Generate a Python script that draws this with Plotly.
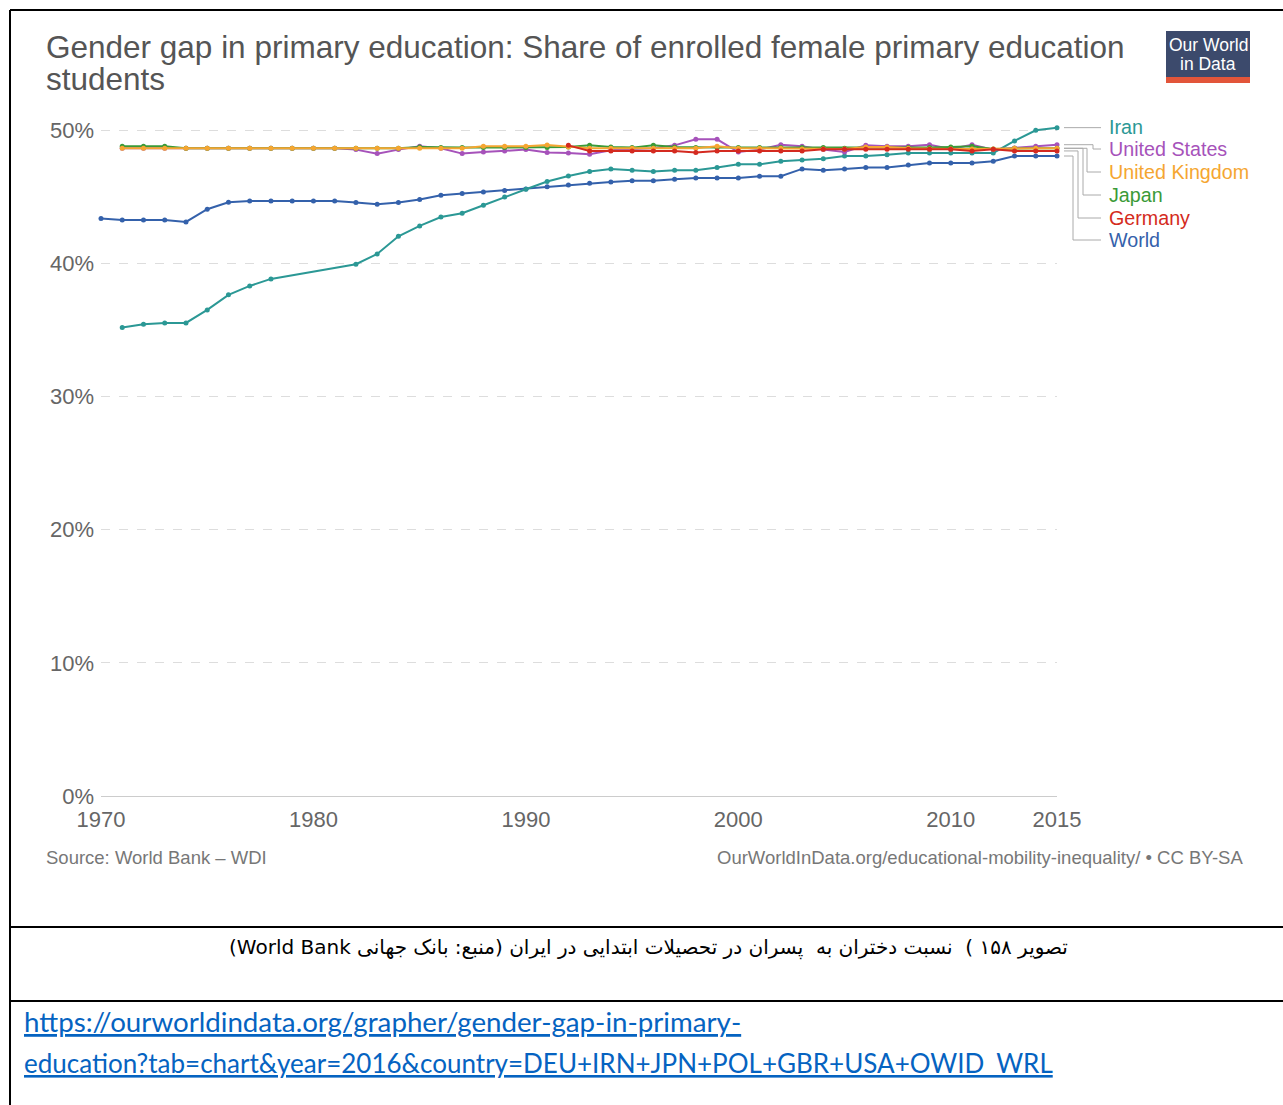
import plotly.graph_objects as go

# ---------------- data ----------------
world_years = list(range(1970, 2016))
world_vals = [43.37, 43.27, 43.27, 43.27, 43.12, 44.07, 44.6, 44.7, 44.7, 44.7,
              44.7, 44.7, 44.57, 44.44, 44.57, 44.8, 45.12, 45.25, 45.37, 45.47,
              45.6, 45.77, 45.9, 46.02, 46.12, 46.22, 46.22, 46.32, 46.42, 46.42,
              46.42, 46.55, 46.55, 47.1, 47.0, 47.1, 47.2, 47.2, 47.4, 47.55,
              47.55, 47.55, 47.67, 48.07, 48.07, 48.07]

iran_years = [1971, 1972, 1973, 1974, 1975, 1976, 1977, 1978,
              1982, 1983, 1984, 1985, 1986, 1987, 1988, 1989, 1990, 1991, 1992,
              1993, 1994, 1995, 1996, 1997, 1998, 1999, 2000, 2001, 2002, 2003,
              2004, 2005, 2006, 2007, 2008, 2009, 2010, 2011, 2012, 2013, 2014, 2015]
iran_vals = [35.19, 35.44, 35.53, 35.53, 36.51, 37.64, 38.31, 38.84,
             39.94, 40.71, 42.04, 42.82, 43.49, 43.77, 44.37, 45.0, 45.57, 46.15, 46.57,
             46.9, 47.1, 47.0, 46.9, 47.0, 47.0, 47.2, 47.45, 47.45, 47.67, 47.77,
             47.87, 48.07, 48.07, 48.17, 48.3, 48.3, 48.3, 48.3, 48.3, 49.2, 50.0, 50.2]

oecd_years = list(range(1971, 2016))
us_vals = [48.65, 48.65, 48.65, 48.65, 48.65, 48.65, 48.65, 48.65, 48.65, 48.65,
           48.65, 48.55, 48.25, 48.55, 48.8, 48.65, 48.25, 48.37, 48.45, 48.55,
           48.33, 48.3, 48.2, 48.5, 48.6, 48.65, 48.87, 49.32, 49.32, 48.37,
           48.55, 48.92, 48.8, 48.55, 48.37, 48.87, 48.8, 48.8, 48.92, 48.6,
           48.92, 48.55, 48.68, 48.8, 48.92]
japan_vals = [48.8, 48.8, 48.8, 48.65, 48.65, 48.65, 48.65, 48.65, 48.65, 48.65,
              48.65, 48.65, 48.65, 48.65, 48.75, 48.7, 48.7, 48.7, 48.7, 48.7,
              48.7, 48.75, 48.87, 48.75, 48.7, 48.87, 48.75, 48.7, 48.7, 48.7,
              48.7, 48.7, 48.7, 48.7, 48.65, 48.65, 48.7, 48.7, 48.7, 48.75,
              48.8, 48.6, 48.65, 48.65, 48.65]
uk_vals = [48.65, 48.65, 48.65, 48.65, 48.65, 48.65, 48.65, 48.65, 48.65, 48.65,
           48.65, 48.65, 48.65, 48.65, 48.65, 48.65, 48.65, 48.8, 48.8, 48.8,
           48.9, 48.75, 48.65, 48.65, 48.65, 48.65, 48.65, 48.65, 48.8, 48.65,
           48.65, 48.65, 48.6, 48.6, 48.6, 48.75, 48.75, 48.65, 48.6, 48.6,
           48.6, 48.6, 48.65, 48.65, 48.65]

germany_years = list(range(1992, 2016))
germany_vals = [48.87, 48.45, 48.45, 48.45, 48.45, 48.45, 48.33, 48.45, 48.45, 48.45,
                48.45, 48.45, 48.57, 48.57, 48.57, 48.57, 48.57, 48.57, 48.57, 48.45,
                48.57, 48.45, 48.45, 48.45]

x_ticks = [1970, 1980, 1990, 2000, 2010, 2015]
x_tick_labels = ["1970", "1980", "1990", "2000", "2010", "2015"]
y_ticks = [0, 10, 20, 30, 40, 50]
y_tick_labels = ["0%", "10%", "20%", "30%", "40%", "50%"]

title_line1 = "Gender gap in primary education: Share of enrolled female primary education"
title_line2 = "students"
source_text = "Source: World Bank – WDI"
credit_text = "OurWorldInData.org/educational-mobility-inequality/ • CC BY-SA"
caption_text = "\u202bتصویر ۱۵۸ )  نسبت دختران به  پسران در تحصیلات ابتدایی در ایران (منبع: بانک جهانی World Bank)\u202c"
url_line1 = "https://ourworldindata.org/grapher/gender-gap-in-primary-"
url_line2 = "education?tab=chart&year=2016&country=DEU+IRN+JPN+POL+GBR+USA+OWID_WRL"

# ---------------- styles ----------------
C_IRAN = "#2b9895"
C_US = "#a652ba"
C_UK = "#f5a631"
C_JAPAN = "#3a9a37"
C_GER = "#d42a20"
C_WORLD = "#3461ab"

W, H = 1283, 1105
ML, MR, MT, MB = 101, 226, 117, 309
PW = W - ML - MR
PH = H - MT - MB
YMAX = 51.0


def xp(px):
    return (px - ML) / PW


def yp(py):
    return (H - MB - py) / PH


series = [
    ("World", world_years, world_vals, C_WORLD),
    ("Iran", iran_years, iran_vals, C_IRAN),
    ("United States", oecd_years, us_vals, C_US),
    ("Japan", oecd_years, japan_vals, C_JAPAN),
    ("United Kingdom", oecd_years, uk_vals, C_UK),
    ("Germany", germany_years, germany_vals, C_GER),
]

fig = go.Figure()
for name, xs, ys, col in series:
    fig.add_trace(go.Scatter(
        x=xs, y=ys, name=name, mode="lines+markers",
        line=dict(color=col, width=2),
        marker=dict(color=col, size=5),
        cliponaxis=False, showlegend=False,
    ))

FONT = "Liberation Sans, Arial, sans-serif"
ann = []
shapes = []

# title
for txt, py in [(title_line1, 47), (title_line2, 79)]:
    ann.append(dict(text=txt, x=xp(44), y=yp(py), xref="paper", yref="paper",
                    xanchor="left", yanchor="middle", showarrow=False,
                    font=dict(family=FONT, size=31.5, color="#555555")))

# logo
shapes.append(dict(type="rect", xref="paper", yref="paper", x0=xp(1166), x1=xp(1250),
                   y0=yp(31), y1=yp(78), fillcolor="#3c4a6c", line=dict(width=0), layer="above"))
shapes.append(dict(type="rect", xref="paper", yref="paper", x0=xp(1166), x1=xp(1250),
                   y0=yp(77), y1=yp(83), fillcolor="#e2553a", line=dict(width=0), layer="above"))
for txt, py in [("Our World", 45), ("in Data", 64)]:
    ann.append(dict(text=txt, x=xp(1208), y=yp(py), xref="paper", yref="paper",
                    xanchor="center", yanchor="middle", showarrow=False,
                    font=dict(family=FONT, size=17.5, color="white")))

# legend labels with connectors
labels = [
    ("Iran", C_IRAN, 127, iran_vals[-1], None),
    ("United States", C_US, 149, us_vals[-1], 1093),
    ("United Kingdom", C_UK, 172, uk_vals[-1], 1087),
    ("Japan", C_JAPAN, 195, japan_vals[-1], 1083),
    ("Germany", C_GER, 218, germany_vals[-1], 1078),
    ("World", C_WORLD, 240, world_vals[-1], 1073),
]
for name, col, py, last, bend in labels:
    ann.append(dict(text=name, x=xp(1107), y=yp(py), xref="paper", yref="paper",
                    xanchor="left", yanchor="middle", showarrow=False,
                    font=dict(family=FONT, size=19.7, color=col)))
    ly = yp(py)
    ld = last / YMAX
    if bend is None:
        path = f"M {xp(1064)},{ld} L {xp(1101)},{ld}"
    else:
        path = f"M {xp(1064)},{ld} L {xp(bend)},{ld} L {xp(bend)},{ly} L {xp(1101)},{ly}"
    shapes.append(dict(type="path", xref="paper", yref="paper", path=path,
                       line=dict(color="#aaaaaa", width=1)))

# source / credit
ann.append(dict(text=source_text, x=xp(44), y=yp(858), xref="paper", yref="paper",
                xanchor="left", yanchor="middle", showarrow=False,
                font=dict(family=FONT, size=18.5, color="#777777")))
ann.append(dict(text=credit_text, x=xp(1245), y=yp(858), xref="paper", yref="paper",
                xanchor="right", yanchor="middle", showarrow=False,
                font=dict(family=FONT, size=18.5, color="#777777")))

# document frame
for (x0, y0, x1, y1) in [(10, 10, 1283, 10), (10, 10, 10, 1105),
                         (10, 927, 1283, 927), (10, 1001, 1283, 1001)]:
    shapes.append(dict(type="line", xref="paper", yref="paper",
                       x0=xp(x0), y0=yp(y0), x1=xp(x1), y1=yp(y1),
                       line=dict(color="black", width=2)))

# caption
ann.append(dict(text=caption_text, x=xp(648), y=yp(947), xref="paper", yref="paper",
                xanchor="center", yanchor="middle", showarrow=False,
                font=dict(family="DejaVu Sans", size=20, color="black")))

# url
for txt, py, sz in [(url_line1, 1021, 27.7), (url_line2, 1063, 26)]:
    ann.append(dict(text=f"<u>{txt}</u>", x=xp(22), y=yp(py), xref="paper", yref="paper",
                    xanchor="left", yanchor="middle", showarrow=False,
                    font=dict(family="Lato", size=sz, color="#0563c1")))

fig.update_layout(
    width=W, height=H,
    margin=dict(l=ML, r=MR, t=MT, b=MB),
    paper_bgcolor="white", plot_bgcolor="white",
    annotations=ann, shapes=shapes,
    xaxis=dict(range=[1970, 2015], tickmode="array", tickvals=x_ticks, ticktext=x_tick_labels,
               showgrid=False, zeroline=False,
               showline=True, linecolor="#cccccc", linewidth=1, ticks="",
               tickfont=dict(family=FONT, size=22, color="#666666"),
               ticklabelstandoff=4),
    yaxis=dict(range=[0, YMAX], tickmode="array", tickvals=y_ticks, ticktext=y_tick_labels,
               showgrid=True, gridcolor="#dddddd", griddash="dash", gridwidth=1,
               zeroline=False, showline=False, ticks="",
               tickfont=dict(family=FONT, size=22, color="#666666"),
               ticklabelstandoff=6),
)

fig.write_html("out.html", config={"displayModeBar": False},
               post_script="document.body.style.margin='0';")
